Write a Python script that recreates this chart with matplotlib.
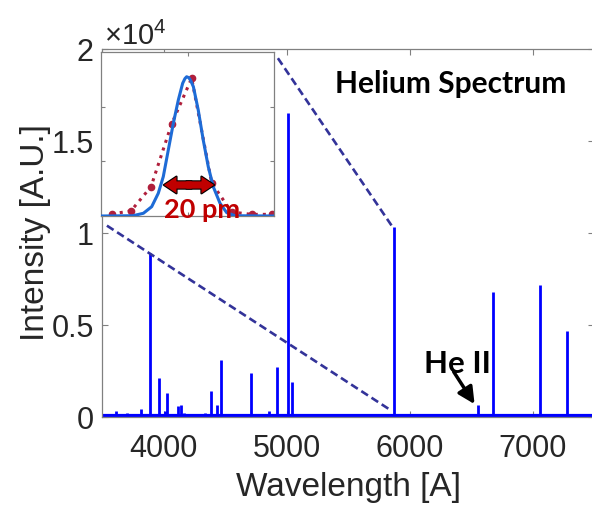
import matplotlib
matplotlib.use('Agg')
import matplotlib.pyplot as plt
from matplotlib.patches import FancyArrowPatch
from matplotlib.ticker import FuncFormatter

plt.rcParams['font.family'] = ['Liberation Sans', 'DejaVu Sans']
plt.rcParams['mathtext.fontset'] = 'custom'
plt.rcParams['mathtext.rm'] = 'Liberation Sans'

# He emission lines: wavelength [A] and peak intensity [x1e4]
line_wl = [3614, 3705, 3820, 3889, 3965, 4009, 4026, 4121, 4144, 4169,
           4340, 4388, 4438, 4471, 4713, 4861, 4922, 5016, 5048, 5876,
           6560, 6678, 7065, 7281]
line_int = [0.03, 0.02, 0.045, 0.89, 0.21, 0.03, 0.13, 0.06, 0.065, 0.02,
            0.02, 0.14, 0.065, 0.31, 0.24, 0.035, 0.27, 1.65, 0.19, 1.03,
            0.065, 0.68, 0.72, 0.47]
baseline = 0.013
wl_range = [3500, 7500]

# zoom connector lines (main axes data units)
conn_lo_x = [3540, 5840]
conn_lo_y = [1.04, 0.04]
conn_hi_x = [4930, 5865]
conn_hi_y = [1.95, 1.03]

# inset: 5876 line profile, offset [pm] vs normalised intensity
fit_x = [-50, -31.5, -25.5, -20.7, -16.9, -14.0, -11.1, -8.2, -5.3, -2.8,
         -1.5, -0.5, 0.8, 1.9, 3.4, 6.2, 9.1, 12.0, 14.9, 18.8, 22.7, 27.5, 50]
fit_y = [0.0, 0.002, 0.02, 0.068, 0.166, 0.288, 0.483, 0.678, 0.849, 0.971,
         1.005, 1.019, 1.012, 0.99, 0.946, 0.776, 0.556, 0.361, 0.214, 0.093,
         0.024, 0.002, 0.0]
meas_x = [-43.8, -32.7, -21.1, -9.2, 2.4, 14.0, 25.5, 37.1, 48.7]
meas_y = [0.015, 0.037, 0.214, 0.673, 1.008, 0.241, 0.029, 0.012, 0.012]
fwhm_x = [-13.6, 15.3]
fwhm_y = 0.227

spine_col = '#808080'
text_col = '#262626'

fig = plt.figure(figsize=(5.92, 5.11), dpi=100)
ax = fig.add_axes([102/592, 1 - 417/511, 492/592, 368/511])

ax.plot(wl_range, [baseline, baseline], color='#0000ff', lw=2.3, zorder=2)
ax.vlines(line_wl, baseline, line_int, color='#0000ff', lw=2.0, zorder=2)

ax.plot(conn_lo_x, conn_lo_y, color='#333399', lw=1.9, ls=(0, (3, 1.6)), zorder=3)
ax.plot(conn_hi_x, conn_hi_y, color='#333399', lw=1.9, ls=(0, (3, 1.6)), zorder=3)

ax.set_xlim(wl_range)
ax.set_ylim(0, 2)
ax.set_xticks([4000, 5000, 6000, 7000])
ax.set_yticks([0, 0.5, 1, 1.5, 2])
ax.yaxis.set_major_formatter(FuncFormatter(lambda v, p: f'{v:g}'))
ax.tick_params(direction='in', length=4, width=0.8, color=spine_col,
               labelsize=22, labelcolor=text_col, top=True, right=True)
ax.tick_params(axis='x', pad=12)
ax.tick_params(axis='y', pad=6)
for s in ax.spines.values():
    s.set_color(spine_col)
    s.set_linewidth(0.9)

ax.set_xlabel('Wavelength [A]', fontsize=24, color=text_col, labelpad=6)
ax.set_ylabel('Intensity [A.U.]', fontsize=24, color=text_col, labelpad=0)
ax.text(0.005, 1.012, r'$\times10^{4}$', transform=ax.transAxes, fontsize=21,
        color=text_col, ha='left', va='baseline')

ax.text(6333, 1.759, 'Helium Spectrum', fontsize=21.5, fontweight='bold',
        family='Lato', ha='center', va='baseline', color='black')
ax.text(6390, 0.239, 'He II', fontsize=22.5, fontweight='bold',
        family='Lato', ha='center', va='baseline', color='black')
ax.annotate('', xy=(6529, 0.07), xytext=(6359, 0.246),
            arrowprops=dict(arrowstyle='-|>,head_length=0.5,head_width=0.25',
                            color='black', lw=2.5, shrinkA=0, shrinkB=0,
                            mutation_scale=20))

# inset
ax_in = fig.add_axes([101/592, 1 - 216/511, 173/592, 164/511])
ax_in.plot(meas_x, meas_y, ls=':', lw=2.2, color='#b01f3c', marker='o',
           markersize=4.5, zorder=2)
ax_in.plot(fit_x, fit_y, color='#1e6bd6', lw=2.2, zorder=3)
ax_in.set_xlim(-50, 50)
ax_in.set_ylim(0, 1.2)
ax_in.set_xticks([0])
ax_in.set_yticks([0.4, 0.8])
ax_in.tick_params(direction='in', length=3, width=0.8, color=spine_col,
                  labelleft=False, labelbottom=False, top=True, right=True)
for s in ax_in.spines.values():
    s.set_color(spine_col)
    s.set_linewidth(0.9)

# double-headed FWHM arrow: two halves with outline, then faces redrawn
mid = (fwhm_x[0] + fwhm_x[1]) / 2
style = 'simple,head_length=0.45,head_width=0.6,tail_width=0.26'
for edge, lw, z in (('black', 1.6, 4), ('none', 0, 4.5)):
    for end in fwhm_x:
        start = mid - 1.5 if end > mid else mid + 1.5
        ax_in.add_patch(FancyArrowPatch((start, fwhm_y), (end, fwhm_y),
                                        arrowstyle=style, mutation_scale=20,
                                        facecolor='#c00000', edgecolor=edge,
                                        lw=lw, shrinkA=0, shrinkB=0, zorder=z))
ax_in.text(8.4, -0.015, '20 pm', fontsize=19.5, fontweight='bold', family='Lato',
           color='#c00000', ha='center', va='baseline', zorder=5, clip_on=False)

fig.savefig('out.png', dpi=100)
